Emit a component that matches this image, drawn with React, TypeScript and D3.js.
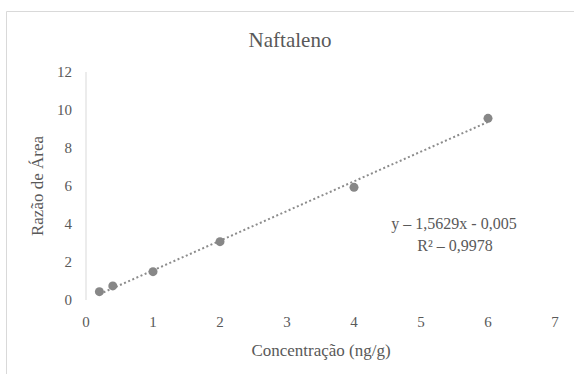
import React from "react";
import * as d3 from "d3";

const concentrations = [0.2, 0.4, 1, 2, 4, 6];
const areaRatios = [0.44, 0.74, 1.49, 3.07, 5.93, 9.56];
const xTicks = [0, 1, 2, 3, 4, 5, 6, 7];
const yTicks = [0, 2, 4, 6, 8, 10, 12];
const slope = 1.5629;
const intercept = -0.005;
const title = "Naftaleno";
const xTitle = "Concentração (ng/g)";
const yTitle = "Razão de Área";
const eqLine1 = "y – 1,5629x - 0,005";
const eqLine2 = "R² – 0,9978";

export default function App() {
  const W = 574, H = 374;
  const x = d3.scaleLinear().domain([0, 7]).range([86, 555]);
  const y = d3.scaleLinear().domain([0, 12]).range([300, 72]);
  const font = "Liberation Serif, Times New Roman, serif";
  const textColor = "#595959";
  const ts = (size: number) => ({ fontFamily: font, fontSize: size + "px", fill: textColor });
  const xMin = d3.min(concentrations) as number;
  const xMax = d3.max(concentrations) as number;
  const trend = d3.line<number>().x((d) => x(d)).y((d) => y(slope * d + intercept));
  return (
    <svg width={W} height={H} style={{ position: "absolute", left: 0, top: 0 }}>
      <rect x={0} y={0} width={W} height={H} fill="#fff" />
      <path d={`M6.5,${H} V11.5 H${W}`} fill="none" stroke="#d9d9d9" strokeWidth={1} />
      <text x={290} y={47} textAnchor="middle" style={ts(21)}>{title}</text>
      <line x1={x(0)} x2={x(0)} y1={y(12)} y2={y(0)} stroke="#d9d9d9" strokeWidth={1} />
      {yTicks.map((t) => (
        <text key={t} x={72} y={y(t) + 5} textAnchor="end" style={ts(15)}>{t}</text>
      ))}
      {xTicks.map((t) => (
        <text key={t} x={x(t)} y={327} textAnchor="middle" style={ts(15)}>{t}</text>
      ))}
      <text x={321} y={356} textAnchor="middle" style={ts(17)}>{xTitle}</text>
      <text transform={`translate(43,186) rotate(-90)`} textAnchor="middle" style={ts(17)}>{yTitle}</text>
      <path d={trend([xMin, xMax]) || ""} fill="none" stroke="#8c8c8c" strokeWidth={2} strokeDasharray="2 2.5" />
      {concentrations.map((c, i) => (
        <circle key={i} cx={x(c)} cy={y(areaRatios[i])} r={4.5} fill="#878787" />
      ))}
      <text x={454} y={229} textAnchor="middle" style={ts(16)}>{eqLine1}</text>
      <text x={455} y={251} textAnchor="middle" style={ts(16)}>{eqLine2}</text>
    </svg>
  );
}
